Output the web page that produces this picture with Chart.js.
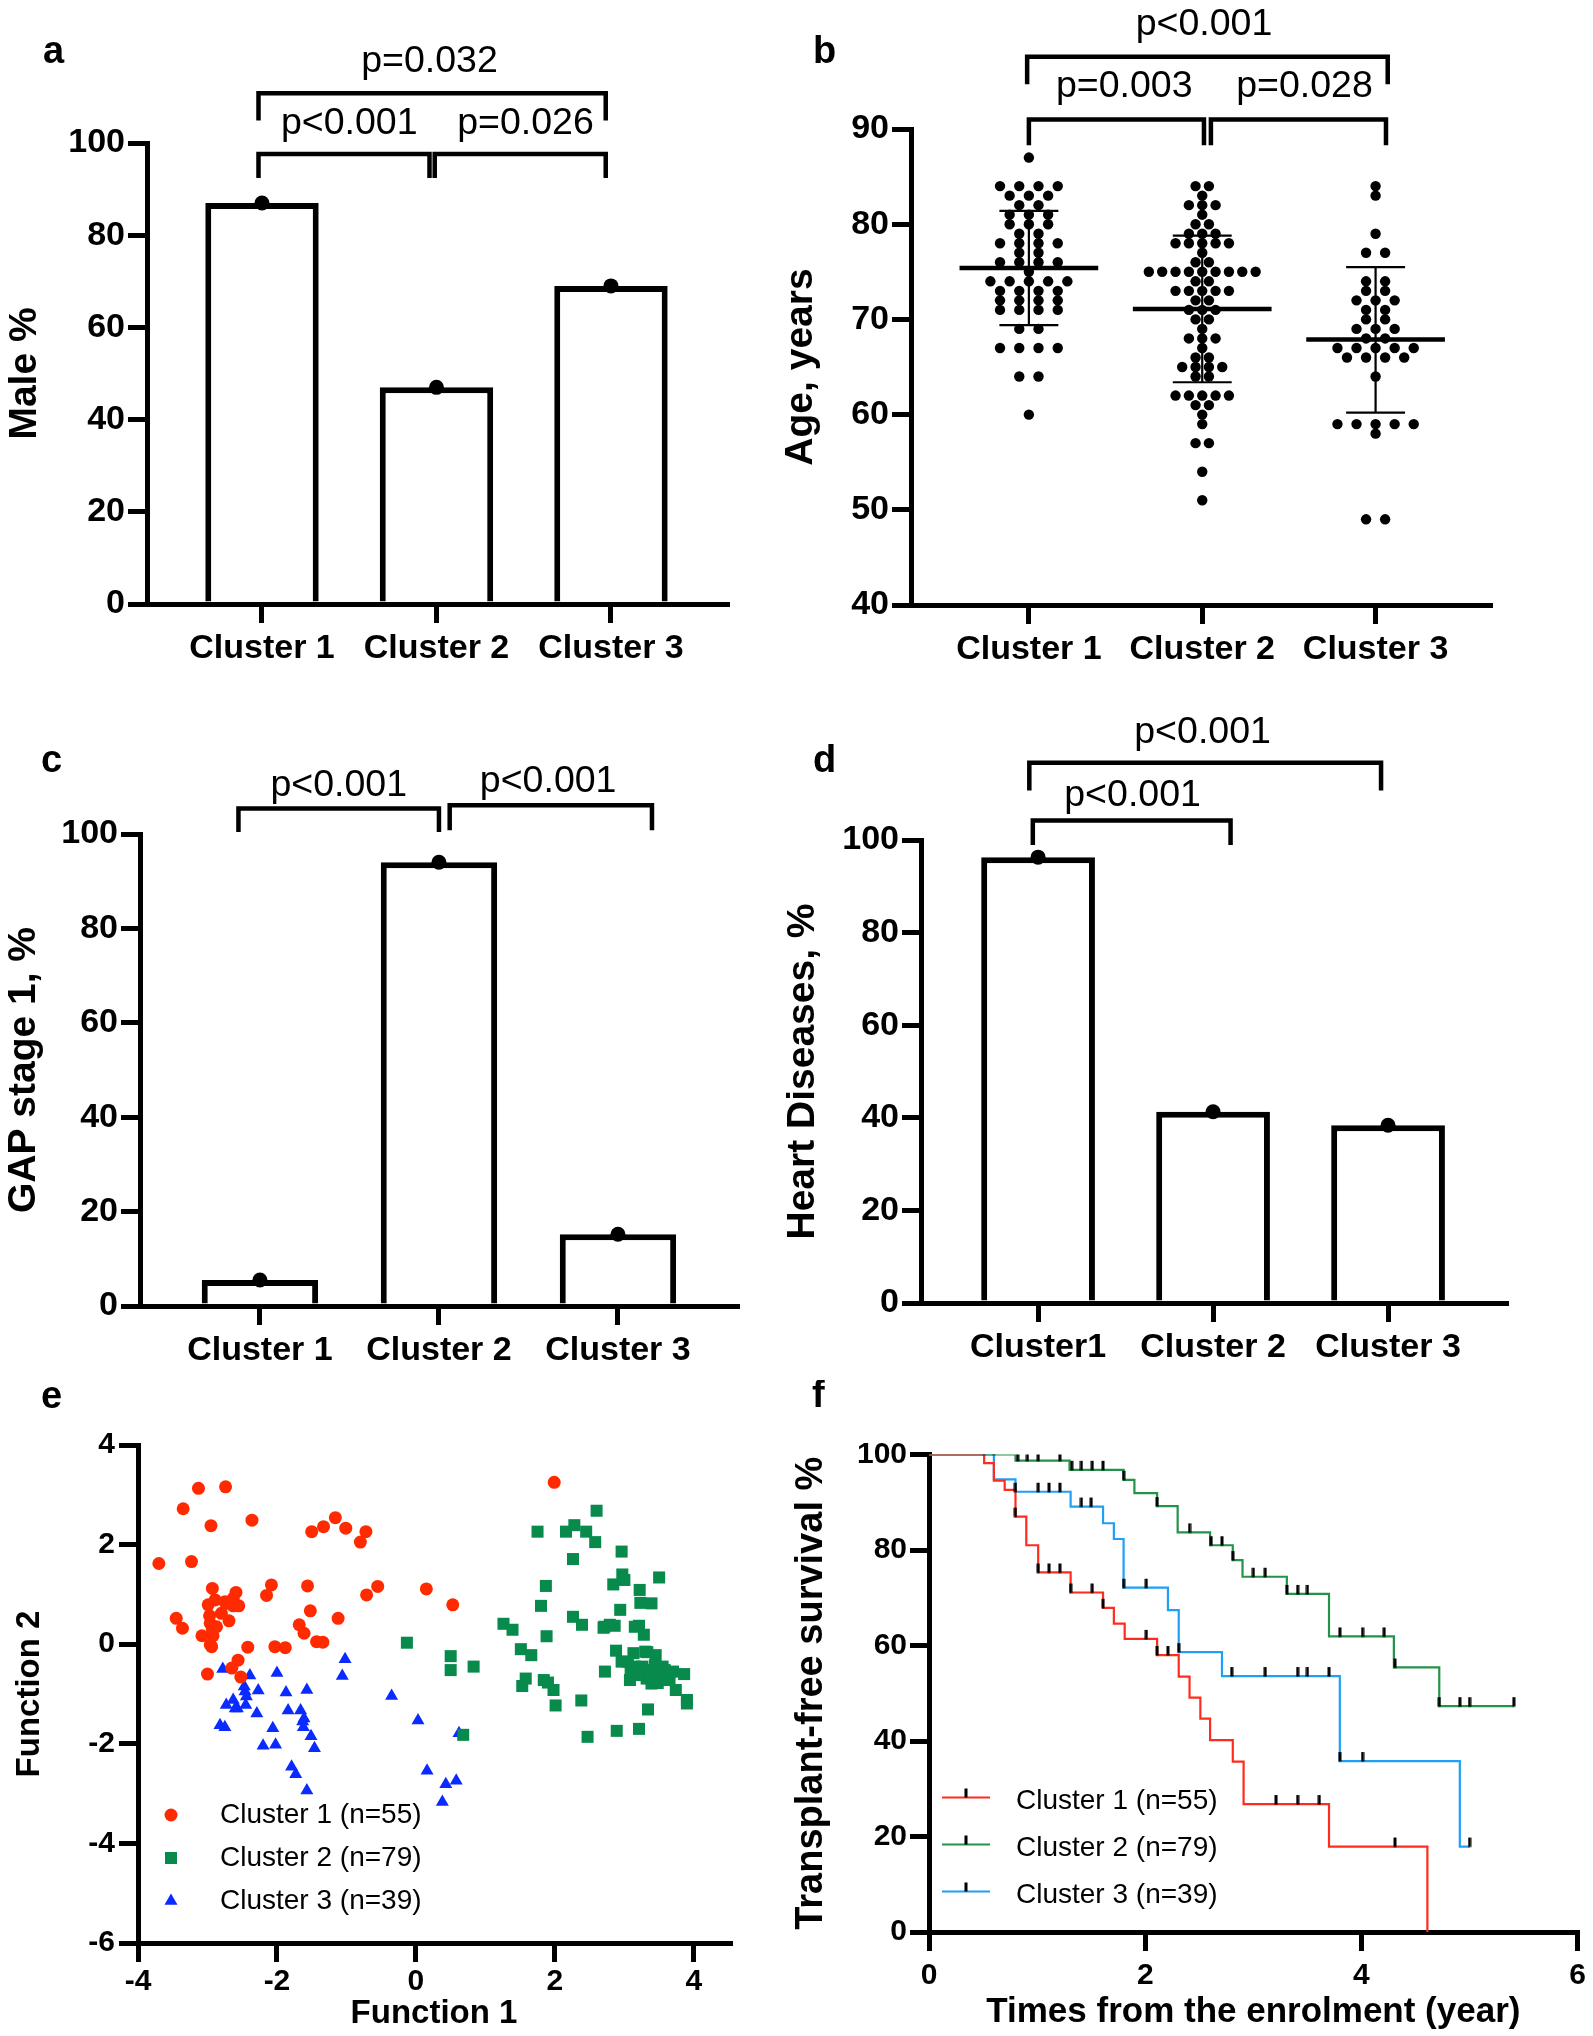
<!DOCTYPE html>
<html>
<head>
<meta charset="utf-8">
<title>Cluster characteristics</title>
<script src="https://cdn.jsdelivr.net/npm/chart.js@4.4.1/dist/chart.umd.min.js"></script>
<style>
  html, body { margin: 0; padding: 0; background: #fff; }
  body { position: relative; width: 1593px; height: 2036px; overflow: hidden; }
  canvas { position: absolute; }
</style>
</head>
<body>
<canvas id="chartMale" width="780" height="690" style="left:0px;top:0px"></canvas>
<canvas id="chartAge" width="823" height="690" style="left:770px;top:0px"></canvas>
<canvas id="chartGap" width="780" height="690" style="left:0px;top:700px"></canvas>
<canvas id="chartHeart" width="823" height="690" style="left:770px;top:700px"></canvas>
<canvas id="chartFunc" width="770" height="656" style="left:0px;top:1380px"></canvas>
<canvas id="chartSurv" width="813" height="656" style="left:780px;top:1380px"></canvas>
<script>
// ---------- data ----------
const clusterLabels = ['Cluster 1', 'Cluster 2', 'Cluster 3'];
const clusterLabelsD = ['Cluster1', 'Cluster 2', 'Cluster 3'];
const legendLabels = ['Cluster 1 (n=55)', 'Cluster 2 (n=79)', 'Cluster 3 (n=39)'];
const pctTicks = [0, 20, 40, 60, 80, 100];

const malePct = [87, 47, 69];
const gapStage1Pct = [5.5, 94, 15.2];
const heartDiseasePct = [96.3, 41.3, 38.4];

const pMale = ['p<0.001', 'p=0.026', 'p=0.032'];
const pAge = ['p=0.003', 'p=0.028', 'p<0.001'];
const pGap = ['p<0.001', 'p<0.001'];
const pHeart = ['p<0.001', 'p<0.001'];

// panel b: individual ages
const ageTicks = [40, 50, 60, 70, 80, 90];
const ageCluster1 = [87, 84, 84, 84, 84, 83, 83, 83, 82, 82, 81, 81, 81, 80, 80, 80, 79, 79,
  78, 78, 78, 78, 77, 77, 76, 76, 76, 76, 75, 74, 74, 74, 74, 74, 73, 73, 73, 73,
  72, 72, 72, 72, 71, 71, 71, 71, 69, 69, 67, 67, 67, 67, 64, 64, 60];
const ageCluster2 = [84, 84, 83, 82, 82, 82, 81, 80, 80, 79, 79, 79, 78, 78, 78, 78, 78, 77,
  76, 76, 75, 75, 75, 75, 75, 75, 75, 75, 75, 74, 74, 73, 73, 73, 73, 73, 72, 72,
  71, 71, 71, 70, 70, 69, 68, 68, 68, 67, 66, 66, 65, 65, 65, 65, 64, 64,
  62, 62, 62, 62, 62, 61, 61, 60, 59, 57, 57, 54, 51];
const ageCluster3 = [84, 83, 79, 77, 77, 74, 74, 73, 73, 72, 72, 72, 71, 71, 70, 70, 69, 69, 69,
  68, 68, 67, 67, 67, 67, 67, 66, 66, 66, 66, 64, 59, 59, 59, 59, 59, 58, 49, 49];
const ageMean = [75.4, 71.1, 67.9];
const ageSdHigh = [81.4, 78.8, 75.5];
const ageSdLow = [69.4, 63.4, 60.2];

// panel e: discriminant functions
const fnTicksX = [-4, -2, 0, 2, 4];
const fnTicksY = [-6, -4, -2, 0, 2, 4];
const fn1Cluster1 = [-3.13, -2.74, -3.35, -2.95, -2.36, -1.50, -1.33, -1.16, -1.01, -0.72, -0.80,
  -3.70, -3.23, -2.93, -2.08, -2.15, -1.56, -0.55, -0.71, 0.15, 0.53, -1.52, -1.12, -1.68,
  -1.61, -1.43, -1.34, -2.03, -1.88, -2.42, -2.56, -2.65, -2.52, -3.00, -3.45, -3.36, -2.59,
  -2.63, -2.89, -2.99, -2.72, -2.63, -2.97, -2.69, -2.87, -2.96, -3.08, -2.92, -2.96, -2.94,
  -2.75, -2.93, 1.99, -2.55, -2.80];
const fn2Cluster1 = [3.13, 3.16, 2.72, 2.38, 2.49, 2.26, 2.36, 2.54, 2.33, 2.26, 2.05,
  1.62, 1.66, 1.12, 1.19, 0.98, 1.17, 1.16, 0.99, 1.11, 0.79, 0.67, 0.52, 0.39,
  0.22, 0.05, 0.04, -0.05, -0.07, -0.06, -0.32, -0.48, -0.66, -0.60, 0.52, 0.32, 1.04,
  0.92, 0.89, 0.79, 0.82, 0.77, 0.57, 0.47, 0.35, 0.42, 0.17, 0.17, -0.01, -0.05,
  0.85, 0.30, 3.25, 0.77, 0.62];
const fn1Cluster2 = [2.60, 1.75, 2.16, 2.28, 2.45, 2.58, 2.96, 2.26, 2.97, 2.84, 3.00, 3.50, 3.22,
  3.23, 3.39, 1.87, 1.80, 2.94, 2.26, 2.39, 2.71, 2.86, 3.21, 3.28, 1.26, 1.39, 1.88, 1.51,
  1.66, 2.88, 2.96, 3.13, 3.33, 3.45, 3.15, 2.72, 3.08, 3.32, 3.42, 3.58, 3.51, 3.65, 3.86,
  3.74, 3.90, 3.90, 1.58, 1.53, 1.84, 1.90, 1.98, 2.01, 2.38, 3.34, 3.21, 2.89, 2.47, -0.13,
  0.50, 0.50, 0.83, 0.68, 3.15, 3.30, 3.44, 3.22, 3.39, 3.61, 3.26, 3.09, 2.79, 3.05, 3.55,
  3.70, 3.38, 3.18, 2.70, 3.48, 3.60];
const fn2Cluster2 = [2.68, 2.26, 2.26, 2.39, 2.26, 2.05, 1.86, 1.71, 1.40, 1.20, 1.29, 1.34, 1.09,
  0.83, 0.82, 1.17, 0.77, 0.69, 0.55, 0.39, 0.35, 0.37, 0.37, 0.19, 0.41, 0.29, 0.16, -0.10,
  -0.22, -0.13, -0.35, -0.18, -0.16, -0.22, -0.45, -0.55, -0.72, -0.69, -0.52, -0.52, -0.65,
  -0.69, -0.60, -0.92, -1.12, -1.19, -0.69, -0.84, -0.72, -0.77, -0.92, -1.23, -1.13, -1.31,
  -1.70, -1.74, -1.86, 0.03, -0.24, -0.52, -0.45, -1.82, 0.35, -0.15, -0.42, -0.59, -0.79,
  -0.65, -0.45, -0.52, 0.39, -0.35, -0.45, -0.55, -0.60, -0.62, 0.33, -0.78, -0.72];
const fn1Cluster3 = [-2.78, -2.39, -2.00, -2.47, -2.44, -2.27, -2.63, -2.73, -2.57, -2.45, -2.29,
  -2.82, -2.75, -1.87, -1.57, -1.84, -1.66, -1.61, -1.62, -2.06, -1.51, -1.46, -2.20, -2.02,
  -1.79, -1.73, -1.57, -1.02, -1.06, -0.35, 0.03, 0.16, 0.43, 0.58, 0.38, 0.62, -2.46, -2.60, -1.63];
const fn2Cluster3 = [-0.50, -0.63, -0.58, -0.85, -1.05, -0.93, -1.12, -1.22, -1.29, -1.22, -1.39,
  -1.63, -1.67, -0.97, -0.92, -1.33, -1.33, -1.49, -1.67, -1.69, -1.85, -2.09, -2.04, -2.02,
  -2.46, -2.61, -2.94, -0.30, -0.64, -1.04, -1.53, -2.54, -2.81, -2.74, -3.17, -1.79, -0.95, -1.29, -1.55];

// panel f: Kaplan-Meier steps and censored times
const yearTicks = [0, 2, 4, 6];
const kmTime1 = [0, 0.51, 0.60, 0.70, 0.80, 0.90, 1.01, 1.31, 1.61, 1.71, 1.81, 2.11, 2.31, 2.41, 2.51, 2.60, 2.81, 2.91, 3.70, 4.61];
const kmSurv1 = [100, 98.2, 94.5, 92.6, 87.0, 81.0, 75.3, 71.1, 67.9, 64.6, 61.4, 58.0, 53.5, 49.1, 44.7, 40.2, 35.7, 26.8, 17.9, 0];
const censorTime1 = [0.80, 1.01, 1.11, 1.21, 1.31, 1.51, 1.61, 2.01, 2.11, 2.21, 3.21, 3.41, 3.61, 4.31];
const censorSurv1 = [87.0, 75.3, 75.3, 75.3, 71.1, 71.1, 67.9, 61.4, 58.0, 58.0, 26.8, 26.8, 26.8, 17.9];
const kmTime2 = [0, 0.80, 1.30, 1.80, 1.90, 2.11, 2.30, 2.60, 2.81, 2.90, 3.31, 3.70, 4.30, 4.72, 5.41];
const kmSurv2 = [100, 98.7, 96.8, 94.7, 91.9, 89.2, 83.7, 81.0, 77.9, 74.4, 70.8, 61.9, 55.4, 47.3, 47.3];
const censorTime2 = [0.51, 0.82, 0.91, 1.01, 1.21, 1.32, 1.41, 1.51, 1.61, 1.80, 2.11, 2.41, 2.61, 2.71,
  2.81, 3.00, 3.11, 3.31, 3.41, 3.50, 3.80, 4.01, 4.21, 4.31, 4.72, 4.91, 5.00, 5.41];
const censorSurv2 = [100, 98.7, 98.7, 98.7, 98.7, 96.8, 96.8, 96.8, 96.8, 94.7, 89.2, 83.7, 81.0, 81.0,
  77.9, 74.4, 74.4, 70.8, 70.8, 70.8, 61.9, 61.9, 61.9, 55.4, 47.3, 47.3, 47.3, 47.3];
const kmTime3 = [0, 0.60, 0.80, 1.31, 1.61, 1.71, 1.80, 2.21, 2.31, 2.71, 3.80, 4.91, 5.00];
const kmSurv3 = [100, 94.8, 92.2, 89.1, 85.6, 82.3, 72.1, 67.4, 58.6, 53.6, 35.8, 17.9, 17.9];
const censorTime3 = [0.60, 0.80, 1.01, 1.11, 1.21, 1.41, 1.50, 1.80, 2.01, 2.31, 2.80, 3.11, 3.41, 3.50, 3.70, 3.80, 4.01, 5.00];
const censorSurv3 = [100, 92.2, 92.2, 92.2, 92.2, 89.1, 89.1, 72.1, 72.1, 58.6, 53.6, 53.6, 53.6, 53.6, 53.6, 35.8, 35.8, 17.9];

// ---------- look ----------
const FONT = '"Liberation Sans", Arial, Helvetica, sans-serif';
const scatterColors = ['#ff2a00', '#078a4b', '#0a2bff'];
const kmColors = ['#ff2b1c', '#229349', '#1ea0f5'];

Chart.defaults.font.family = FONT;
Chart.defaults.color = '#000';

// small black censor mark sitting on top of the curve
const censorMark = document.createElement('canvas');
censorMark.width = 4;
censorMark.height = 20;
(function () {
  const g = censorMark.getContext('2d');
  g.fillStyle = '#000';
  g.fillRect(0.5, 1, 3, 9.5);
})();

function axis(o) {
  return {
    type: 'linear',
    min: o.min,
    max: o.max,
    offset: false,
    z: 1,
    border: { display: true, color: '#000', width: 5 },
    grid: { offset: false, drawOnChartArea: false, drawTicks: true, tickLength: 19, color: '#000', lineWidth: 5 },
    ticks: {
      autoSkip: false, maxRotation: 0, minRotation: 0, padding: o.pad, color: '#000',
      font: { size: o.font, weight: 'bold' },
      callback: (v) => (o.names ? o.names[v] : String(v))
    },
    title: {
      display: !!o.title, text: o.title || '', color: '#000',
      font: { size: o.titleFont || 39, weight: 'bold' }, padding: o.titlePad || 0
    },
    afterBuildTicks: (s) => { s.ticks = o.ticks.map(v => ({ value: v })); },
    afterFit: (s) => { if (s.isHorizontal()) s.height = o.size; else s.width = o.size; }
  };
}

function baseOptions(pad, xAxis, yAxis, decor) {
  return {
    responsive: false,
    animation: false,
    events: [],
    layout: { padding: pad },
    plugins: { legend: { display: false }, tooltip: { enabled: false }, decor: decor },
    scales: { x: xAxis, y: yAxis }
  };
}

// panel letter, significance brackets and in-plot legends
const decorPlugin = {
  id: 'decor',
  afterDraw(chart, args, o) {
    const { ctx, chartArea } = chart;
    const x = chart.scales.x, y = chart.scales.y;
    ctx.save();
    ctx.fillStyle = '#000';
    ctx.strokeStyle = '#000';
    if (o.letter) {
      ctx.font = `bold 38px ${FONT}`;
      ctx.textAlign = 'left';
      ctx.textBaseline = 'alphabetic';
      ctx.fillText(o.letter[0], o.letter[1], o.letter[2]);
    }
    (o.brackets || []).forEach(b => {
      const x1 = x.getPixelForValue(b.from), x2 = x.getPixelForValue(b.to);
      const yt = y.getPixelForValue(b.high), yb = y.getPixelForValue(b.low);
      ctx.lineWidth = 4.5;
      ctx.lineJoin = 'miter';
      ctx.beginPath();
      ctx.moveTo(x1, yb);
      ctx.lineTo(x1, yt);
      ctx.lineTo(x2, yt);
      ctx.lineTo(x2, yb);
      ctx.stroke();
      ctx.font = `37.5px ${FONT}`;
      ctx.textAlign = 'center';
      ctx.textBaseline = 'alphabetic';
      ctx.fillText(b.text, x.getPixelForValue(b.tx), y.getPixelForValue(b.ty));
    });
    if (o.legend) {
      const L = o.legend;
      L.items.forEach((it, i) => {
        const px = chartArea.left + L.left;
        const py = chartArea.top + L.top + i * L.gap;
        if (L.kind === 'line') {
          ctx.strokeStyle = it.color;
          ctx.lineWidth = 2.2;
          ctx.beginPath();
          ctx.moveTo(px, py);
          ctx.lineTo(px + 48, py);
          ctx.stroke();
          ctx.fillStyle = '#000';
          ctx.fillRect(px + 22.5, py - 9, 3, 9);
        } else {
          ctx.fillStyle = it.color;
          Chart.helpers.drawPoint(ctx, { pointStyle: it.style, radius: it.radius, rotation: 0, borderWidth: 0 }, px, py);
        }
        ctx.fillStyle = '#000';
        ctx.font = `28px ${FONT}`;
        ctx.textAlign = 'left';
        ctx.textBaseline = 'middle';
        ctx.fillText(it.text, chartArea.left + L.textX, py + (L.textDy || 0));
      });
    }
    ctx.restore();
  }
};

// mean and SD bars for panel b
const meanSdPlugin = {
  id: 'meanSd',
  afterDatasetsDraw(chart) {
    const { ctx } = chart;
    const x = chart.scales.x, y = chart.scales.y;
    ctx.save();
    ctx.strokeStyle = '#000';
    ageMean.forEach((m, i) => {
      ctx.lineWidth = 2.2;
      ctx.beginPath();
      ctx.moveTo(x.getPixelForValue(i), y.getPixelForValue(ageSdLow[i]));
      ctx.lineTo(x.getPixelForValue(i), y.getPixelForValue(ageSdHigh[i]));
      [ageSdLow[i], ageSdHigh[i]].forEach(v => {
        ctx.moveTo(x.getPixelForValue(i - 0.17), y.getPixelForValue(v));
        ctx.lineTo(x.getPixelForValue(i + 0.17), y.getPixelForValue(v));
      });
      ctx.stroke();
      ctx.lineWidth = 4.5;
      ctx.beginPath();
      ctx.moveTo(x.getPixelForValue(i - 0.4), y.getPixelForValue(m));
      ctx.lineTo(x.getPixelForValue(i + 0.4), y.getPixelForValue(m));
      ctx.stroke();
    });
    ctx.restore();
  }
};

function barPanel(id, values, names, yTitle, range, pad, yWidth, xHeight, decor) {
  const pts = values.map((v, i) => ({ x: i, y: v }));
  return new Chart(document.getElementById(id), {
    type: 'bar',
    data: {
      datasets: [
        { type: 'scatter', data: pts, pointRadius: 7.5, pointBackgroundColor: '#000', pointBorderWidth: 0, order: 0 },
        { type: 'bar', data: pts, backgroundColor: '#fff', borderColor: '#000', borderWidth: 6,
          barPercentage: 0.65, categoryPercentage: 1, order: 1 }
      ]
    },
    options: baseOptions(pad,
      axis({ min: range[0], max: range[1], ticks: [0, 1, 2], names: names, font: 34, pad: 5, size: xHeight }),
      axis({ min: 0, max: 100, ticks: pctTicks, font: 34, pad: 3, size: yWidth, title: yTitle, titleFont: 39 }),
      decor),
    plugins: [decorPlugin]
  });
}

// beeswarm spread of equal ages around the cluster position
function swarm(ages, center, step) {
  const total = {}, used = {};
  ages.forEach(a => { total[a] = (total[a] || 0) + 1; });
  return ages.map(a => {
    const k = used[a] || 0;
    used[a] = k + 1;
    return { x: center + (k - (total[a] - 1) / 2) * step, y: a };
  });
}

function zipXY(xs, ys) {
  return xs.map((v, i) => ({ x: v, y: ys[i] }));
}

// ---------- a ----------
barPanel('chartMale', malePct, clusterLabels, 'Male %', [-0.659, 2.665],
  { left: 2, top: 143, right: 53, bottom: 0 }, 145, 86, {
    letter: ['a', 43, 63],
    brackets: [
      { from: -0.02, to: 0.96, high: 97.6, low: 92.4, text: pMale[0], tx: 0.50, ty: 101.9 },
      { from: 0.99, to: 1.97, high: 97.6, low: 92.4, text: pMale[1], tx: 1.51, ty: 101.9 },
      { from: -0.02, to: 1.97, high: 110.8, low: 104.9, text: pMale[2], tx: 0.96, ty: 115.5 }
    ]
  });

// ---------- b ----------
new Chart(document.getElementById('chartAge'), {
  type: 'scatter',
  data: {
    datasets: [
      { data: swarm(ageCluster1, 0, 0.111) },
      { data: swarm(ageCluster2, 1, 0.077) },
      { data: swarm(ageCluster3, 2, 0.110) }
    ].map(d => Object.assign(d, { pointRadius: 5.2, pointBackgroundColor: '#000', pointBorderWidth: 0 }))
  },
  options: baseOptions({ left: 8, top: 129, right: 103, bottom: 0 },
    axis({ min: -0.68, max: 2.66, ticks: [0, 1, 2], names: clusterLabels, font: 34, pad: 5, size: 85 }),
    axis({ min: 40, max: 90, ticks: ageTicks, font: 34, pad: 3, size: 133, title: 'Age, years', titleFont: 39 }),
    {
      letter: ['b', 43, 63],
      brackets: [
        { from: 0.0, to: 1.01, high: 91.0, low: 88.3, text: pAge[0], tx: 0.55, ty: 93.4 },
        { from: 1.05, to: 2.06, high: 91.0, low: 88.3, text: pAge[1], tx: 1.59, ty: 93.4 },
        { from: -0.01, to: 2.07, high: 97.6, low: 94.7, text: pAge[2], tx: 1.01, ty: 99.9 }
      ]
    }),
  plugins: [decorPlugin, meanSdPlugin]
});

// ---------- c ----------
barPanel('chartGap', gapStage1Pct, clusterLabels, 'GAP stage 1, %', [-0.67, 2.665],
  { left: 1, top: 134, right: 43, bottom: 0 }, 139, 84, {
    letter: ['c', 41, 72],
    brackets: [
      { from: -0.12, to: 1.0, high: 105.4, low: 100.4, text: pGap[0], tx: 0.44, ty: 108.0 },
      { from: 1.06, to: 2.19, high: 106.1, low: 100.8, text: pGap[1], tx: 1.61, ty: 108.8 }
    ]
  });

// ---------- d ----------
barPanel('chartHeart', heartDiseasePct, clusterLabelsD, 'Heart Diseases, %', [-0.669, 2.674],
  { left: 10, top: 140, right: 87, bottom: 0 }, 141, 87, {
    letter: ['d', 43, 72],
    brackets: [
      { from: -0.03, to: 1.10, high: 104.2, low: 98.9, text: pHeart[0], tx: 0.54, ty: 107.3 },
      { from: -0.05, to: 1.96, high: 116.7, low: 110.7, text: pHeart[1], tx: 0.94, ty: 120.9 }
    ]
  });

// ---------- e ----------
new Chart(document.getElementById('chartFunc'), {
  type: 'scatter',
  data: {
    datasets: [
      { data: zipXY(fn1Cluster1, fn2Cluster1), pointStyle: 'circle', pointRadius: 6.5, pointBackgroundColor: scatterColors[0] },
      { data: zipXY(fn1Cluster2, fn2Cluster2), pointStyle: 'rect', pointRadius: 8.5, pointBackgroundColor: scatterColors[1] },
      { data: zipXY(fn1Cluster3, fn2Cluster3), pointStyle: 'triangle', pointRadius: 7.5, pointBackgroundColor: scatterColors[2] }
    ].map(d => Object.assign(d, { pointBorderWidth: 0 }))
  },
  options: baseOptions({ left: 10, top: 65, right: 40, bottom: 0 },
    axis({ min: -4, max: 4.52, ticks: fnTicksX, font: 30, pad: 2, size: 93, title: 'Function 1', titleFont: 33, titlePad: 2 }),
    axis({ min: -6, max: 4, ticks: fnTicksY, font: 30, pad: 4, size: 128, title: 'Function 2', titleFont: 33 }),
    {
      letter: ['e', 41, 28],
      legend: {
        kind: 'marker', left: 33, top: 370, gap: 43, textX: 82,
        items: [
          { text: legendLabels[0], color: scatterColors[0], style: 'circle', radius: 6.5 },
          { text: legendLabels[1], color: scatterColors[1], style: 'rect', radius: 8.5 },
          { text: legendLabels[2], color: scatterColors[2], style: 'triangle', radius: 7.5 }
        ]
      }
    }),
  plugins: [decorPlugin]
});

// ---------- f ----------
const kmSets = [[kmTime1, kmSurv1], [kmTime2, kmSurv2], [kmTime3, kmSurv3]];
const censorSets = [[censorTime1, censorSurv1], [censorTime2, censorSurv2], [censorTime3, censorSurv3]];
new Chart(document.getElementById('chartSurv'), {
  type: 'line',
  data: {
    datasets: kmSets.map((s, i) => ({
      data: zipXY(s[0], s[1]), borderColor: kmColors[i], borderWidth: 2.2, stepped: 'before',
      pointRadius: 0, fill: false, order: 1
    })).concat(censorSets.map(s => ({
      data: zipXY(s[0], s[1]), showLine: false, pointStyle: censorMark, pointRadius: 10, order: 0
    })))
  },
  options: baseOptions({ left: 9, top: 74.5, right: 9, bottom: 0 },
    axis({ min: 0, max: 6, ticks: yearTicks, font: 30, pad: 7, size: 104, title: 'Times from the enrolment (year)', titleFont: 35, titlePad: 3 }),
    axis({ min: 0, max: 100, ticks: pctTicks, font: 30, pad: 3, size: 140, title: 'Transplant-free survival %', titleFont: 38 }),
    {
      letter: ['f', 32, 27],
      legend: {
        kind: 'line', left: 13, top: 343, gap: 47, textX: 87, textDy: 4,
        items: [
          { text: legendLabels[0], color: kmColors[0] },
          { text: legendLabels[1], color: kmColors[1] },
          { text: legendLabels[2], color: kmColors[2] }
        ]
      }
    }),
  plugins: [decorPlugin]
});
</script>
</body>
</html>
